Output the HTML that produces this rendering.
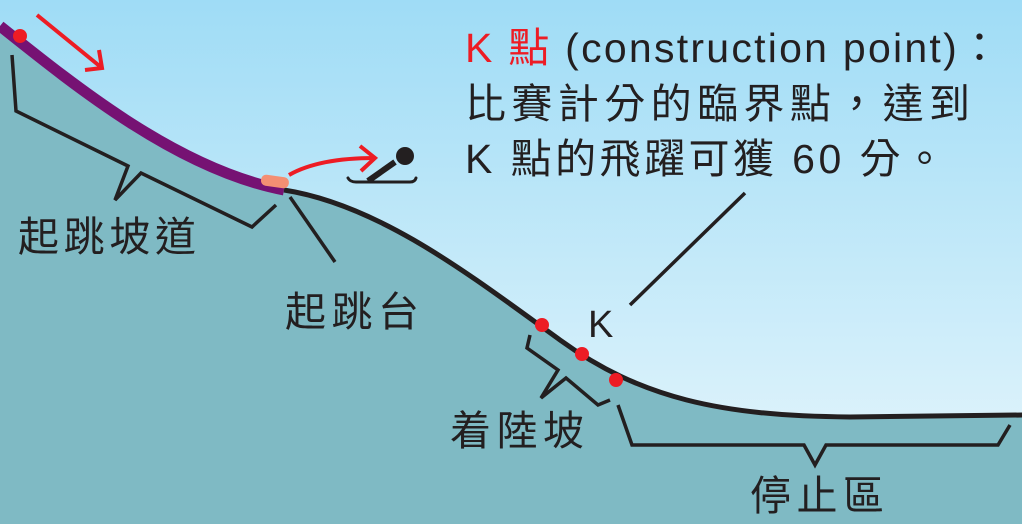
<!DOCTYPE html>
<html><head><meta charset="utf-8"><style>
html,body{margin:0;padding:0;width:1022px;height:524px;overflow:hidden}
svg{display:block}
text{font-family:"Liberation Sans","Noto Sans CJK TC",sans-serif;fill:#231f20}
</style></head><body>
<svg width="1022" height="524" viewBox="0 0 1022 524">
<defs><linearGradient id="sky" x1="0" y1="0" x2="0" y2="1">
<stop offset="0" stop-color="#9fdcf6"/><stop offset="1" stop-color="#e9f7fc"/></linearGradient></defs>
<rect width="1022" height="524" fill="url(#sky)"/>
<path d="M0,26 C80,90 180,170 284,190 C380,205 470,275 560,340 C640,398 720,416 850,417 L1022,415 L1022,524 L0,524 Z" fill="#7fbac4"/>
<path d="M0,26 C80,90 180,170 284,190" fill="none" stroke="#761273" stroke-width="11"/>
<path d="M284,190 C380,205 470,275 560,340 C640,398 720,416 850,417 L1022,415" fill="none" stroke="#231f20" stroke-width="5"/>
<rect x="261" y="176" width="28" height="11" rx="5" fill="#f48f73" transform="rotate(8 275 181)"/>
<circle cx="20" cy="36" r="7" fill="#ed1c24"/>
<circle cx="542" cy="325" r="7" fill="#ed1c24"/>
<circle cx="582" cy="354" r="7" fill="#ed1c24"/>
<circle cx="616" cy="380" r="7" fill="#ed1c24"/>
<g fill="none" stroke="#ed1c24" stroke-width="4">
<path d="M37,15 L102,68 M85,70 L102,68 L99,50"/>
<path d="M289,175 C310,163 340,158 375,158 M360,146 L375,158 L361,171"/>
</g>
<g fill="none" stroke="#231f20" stroke-width="3.5">
<path d="M12,55 L16,111 L128,166 L115,200 L141,173 L252,227 L276,205"/>
<path d="M290,197 L335,262"/>
<path d="M630,305 L745,193"/>
<path d="M530,335 L527,348 L558,370 L541,398 L566,378 L598,405 L610,400"/>
<path d="M618,405 L632,445 L804,445 L815,465 L826,445 L998,445 L1010,425"/>
</g>
<g fill="#231f20" stroke="#231f20">
<path d="M348,178 Q350,182 356,182 L410,182 Q415,182 416,178" stroke-width="3" stroke-linecap="round" fill="none"/>
<path d="M368,181 L395,162" stroke-width="6" fill="none"/>
<circle cx="405" cy="156" r="9" stroke="none"/>
</g>
<text x="18" y="251" font-size="41" textLength="178">起跳坡道</text>
<text x="285" y="326" font-size="41" textLength="134">起跳台</text>
<text x="588" y="337" font-size="38">K</text>
<text x="450" y="445" font-size="41" textLength="134">着陸坡</text>
<text x="750" y="510" font-size="41" textLength="134">停止區</text>
<text x="465" y="62" font-size="41" textLength="535"><tspan fill="#ed1c24">K 點</tspan> (construction point)：</text>
<text x="465" y="118" font-size="41" textLength="505">比賽計分的臨界點，達到</text>
<text x="465" y="173" font-size="41" textLength="480">K 點的飛躍可獲 60 分。</text>
</svg>
</body></html>
